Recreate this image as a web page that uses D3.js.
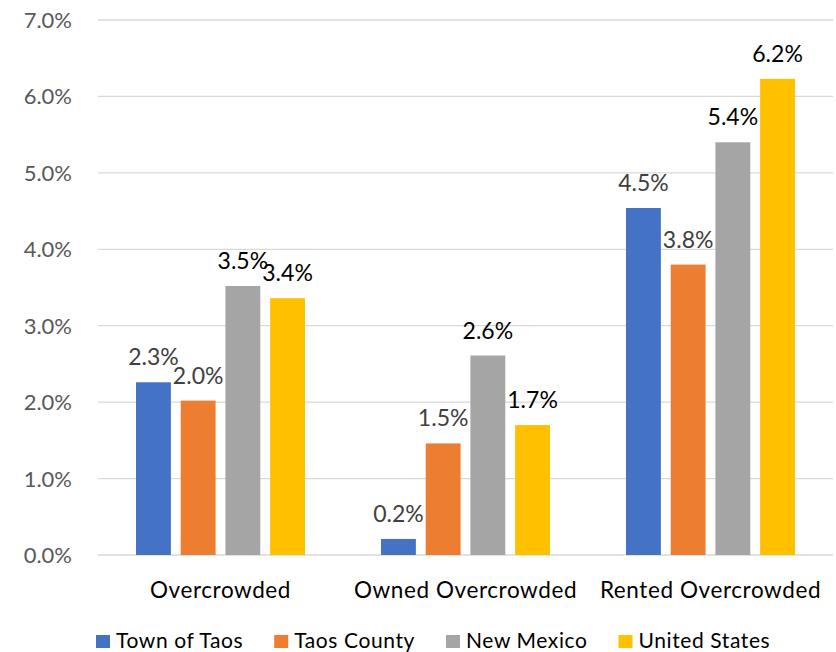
<!DOCTYPE html>
<html>
<head>
<meta charset="utf-8">
<script src="https://cdn.jsdelivr.net/npm/d3@7"></script>
<style>
  html, body { margin: 0; padding: 0; background: #fff; }
  svg { display: block; font-family: Lato, "Open Sans", sans-serif; }
</style>
</head>
<body>
<svg id="chart" width="836" height="652"></svg>
<script>
// Overcrowding rates (percent of households)
const categories = ["Overcrowded", "Owned Overcrowded", "Rented Overcrowded"];
const series = ["Town of Taos", "Taos County", "New Mexico", "United States"];
const townOfTaos   = [2.26, 0.21, 4.54];
const taosCounty   = [2.02, 1.46, 3.80];
const newMexico    = [3.52, 2.61, 5.40];
const unitedStates = [3.36, 1.70, 6.23];
const yTicks = [0, 1, 2, 3, 4, 5, 6, 7];

const values = [townOfTaos, taosCounty, newMexico, unitedStates];
const colors = ["#4472C4", "#ED7D31", "#A5A5A5", "#FFC000"];
const labelColors = ["#404040", "#404040", "#000000", "#000000"];

const svg = d3.select("#chart");
const plot = { left: 98, right: 833, top: 20, bottom: 555 };

const x0 = d3.scaleBand().domain(categories).range([plot.left, plot.right]);
const x1 = d3.scaleBand().domain(series).range([0, x0.bandwidth()])
  .paddingInner(0.22).paddingOuter(0.85);
const y = d3.scaleLinear().domain([0, 7]).range([plot.bottom, plot.top]);

// Horizontal gridlines
svg.append("g")
  .selectAll("line")
  .data(yTicks)
  .join("line")
  .attr("x1", plot.left).attr("x2", plot.right)
  .attr("y1", d => y(d)).attr("y2", d => y(d))
  .attr("stroke", "#d9d9d9").attr("stroke-width", 1.3);

// Y axis tick labels
const yAxis = d3.axisLeft(y).tickValues(yTicks)
  .tickFormat(d => d3.format(".1f")(d) + "%").tickSize(0).tickPadding(26);
const gy = svg.append("g").attr("transform", `translate(${plot.left},0)`).call(yAxis);
gy.select(".domain").remove();
gy.selectAll("text").attr("font-size", 22).attr("fill", "#595959")
  .attr("font-family", "Lato, sans-serif").attr("dy", "0.34em");

// Bars
const groups = svg.append("g").selectAll("g")
  .data(categories)
  .join("g")
  .attr("transform", d => `translate(${x0(d)},0)`);

const cells = (c, ci) => series.map((s, si) => ({ s, si, ci, v: values[si][ci] }));

groups.selectAll("rect")
  .data(cells)
  .join("rect")
  .attr("x", d => x1(d.s))
  .attr("width", x1.bandwidth())
  .attr("y", d => y(d.v))
  .attr("height", d => y(0) - y(d.v))
  .attr("fill", d => colors[d.si]);

// Value labels
groups.selectAll("text.val")
  .data(cells)
  .join("text")
  .attr("class", "val")
  .attr("x", d => x1(d.s) + x1.bandwidth() / 2)
  .attr("y", d => y(d.v) - 17)
  .attr("text-anchor", "middle")
  .attr("font-size", 23)
  .attr("fill", d => labelColors[d.si])
  .text(d => d3.format(".1f")(d.v) + "%");

// Category labels
svg.append("g").selectAll("text")
  .data(categories)
  .join("text")
  .attr("x", d => x0(d) + x0.bandwidth() / 2)
  .attr("y", 598)
  .attr("text-anchor", "middle")
  .attr("font-size", 22.5)
  .attr("letter-spacing", 0.6)
  .attr("fill", "#000")
  .text(d => d);

// Legend
const legend = svg.append("g").attr("transform", "translate(96,648)");
let lx = 0;
series.forEach((s, i) => {
  const item = legend.append("g").attr("transform", `translate(${lx},0)`);
  item.append("rect").attr("x", 0).attr("y", -13).attr("width", 14).attr("height", 13)
    .attr("fill", colors[i]);
  const t = item.append("text").attr("x", 20).attr("y", 0)
    .attr("font-size", 21).attr("letter-spacing", 0.6)
    .attr("fill", "#000").text(s);
  lx += 20 + t.node().getComputedTextLength() + 31;
});
</script>
</body>
</html>
